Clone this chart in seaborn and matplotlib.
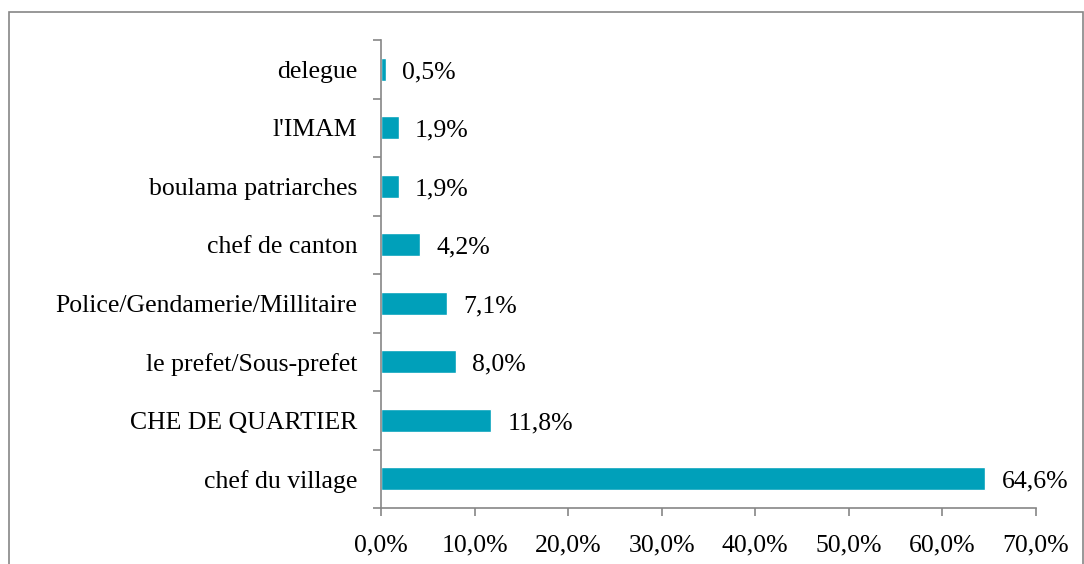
import matplotlib
matplotlib.use("Agg")
import matplotlib.pyplot as plt
import matplotlib.patches as mpatches
from matplotlib.ticker import FuncFormatter, FixedLocator
import seaborn as sns
import pandas as pd

categories = ["delegue", "l'IMAM", "boulama patriarches", "chef de canton",
              "Police/Gendamerie/Millitaire", "le prefet/Sous-prefet",
              "CHE DE QUARTIER", "chef du village"]
values = [0.5, 1.9, 1.9, 4.2, 7.1, 8.0, 11.8, 64.6]
xticks = [0, 10, 20, 30, 40, 50, 60, 70]

sns.set_theme(style="white")
plt.rcParams['font.family'] = ['Liberation Serif', 'DejaVu Serif']

FS = 18.5

df = pd.DataFrame({"cat": categories, "val": values})

fig = plt.figure(figsize=(10.84, 5.64), dpi=100)
ax = fig.add_axes([381/1084, 1 - 508/564, (1036 - 381)/1084, (508 - 40)/564])

sns.barplot(data=df, y="cat", x="val", orient="h", color="#00A0BA",
            saturation=1, width=0.4, ax=ax)

ax.set_xlim(0, 70)
ax.set_ylim(len(categories) - 0.5, -0.5)
ax.xaxis.set_major_locator(FixedLocator(xticks))
ax.xaxis.set_major_formatter(FuncFormatter(lambda v, p: f"{v:.1f}%".replace(".", ",")))
ax.set_xlabel("")
ax.set_ylabel("")

# y ticks at category boundaries, labels at centers
ax.set_yticks([i - 0.5 for i in range(len(categories) + 1)], minor=False)
ax.set_yticklabels([])
ax.set_yticks(range(len(categories)), minor=True)
ax.set_yticklabels(categories, minor=True)
ax.tick_params(axis="y", which="minor", length=0, pad=17, labelsize=FS, labelcolor="#000000")
ax.tick_params(axis="y", which="major", length=6, color="#868686", width=1.2, direction="out", left=True)
ax.tick_params(axis="x", which="major", length=6, color="#868686", width=1.2, direction="out",
               bottom=True, labelsize=FS, labelcolor="#000000", pad=13)

for s in ["top", "right"]:
    ax.spines[s].set_visible(False)
for s in ["left", "bottom"]:
    ax.spines[s].set_color("#868686")
    ax.spines[s].set_linewidth(1.2)

for i, v in enumerate(values):
    ax.text(v + 1.7, i + 0.05, f"{v:.1f}%".replace(".", ","), va="center", ha="left",
            fontsize=FS, color="#000000")

border = mpatches.Rectangle((9/1084, -0.01), (1083 - 9)/1084, 1 - 12/564 + 0.01,
                            transform=fig.transFigure, fill=False,
                            edgecolor="#868686", linewidth=1.2)
fig.patches.append(border)

fig.savefig("out.png", dpi=100)
